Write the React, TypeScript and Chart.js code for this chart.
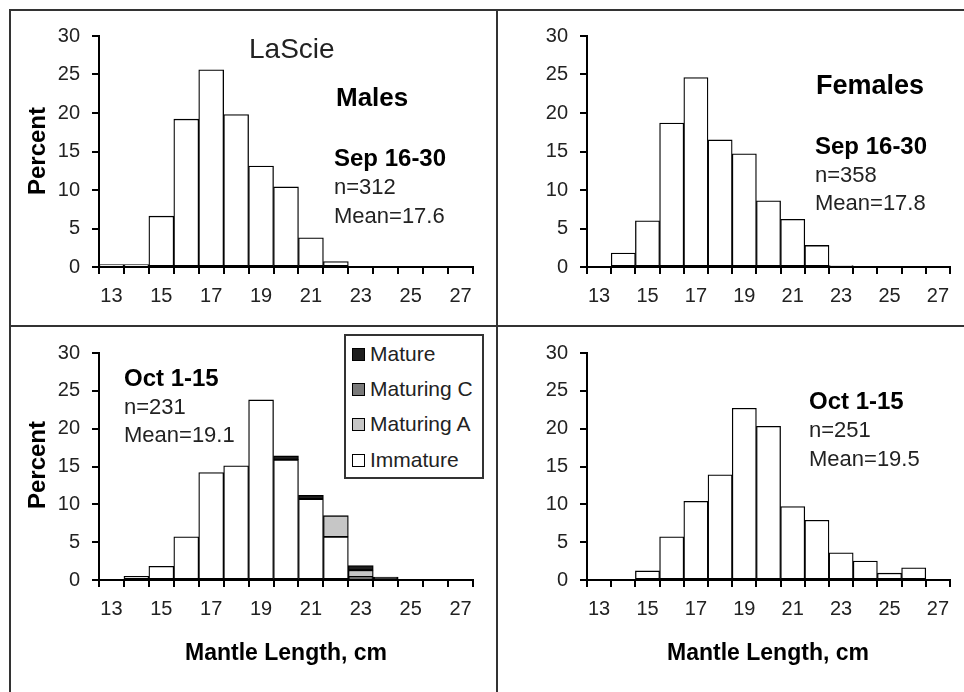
import React, { useEffect, useRef } from "react";
import { Chart, registerables } from "chart.js";
Chart.register(...registerables);

// ---- data ----
const lengths = ["13", "14", "15", "16", "17", "18", "19", "20", "21", "22", "23", "24", "25", "26", "27"];
const maleSep = [0.3, 0.3, 6.6, 19.2, 25.6, 19.8, 13.1, 10.4, 3.8, 0.7, null, null, null, null, null];
const femaleSep = [null, 1.8, 6.0, 18.7, 24.6, 16.5, 14.7, 8.6, 6.2, 2.8, 0.2, null, null, null, null];
const maleOctImmature = [null, 0.5, 1.8, 5.7, 14.2, 15.1, 23.8, 15.9, 10.7, 5.7, 0.4, null, null, null, null];
const maleOctMaturingA = [null, null, null, null, null, null, null, null, null, 2.8, 0.9, null, null, null, null];
const maleOctMaturingC = [null, null, null, null, null, null, null, null, null, null, null, null, null, null, null];
const maleOctMature = [null, null, null, null, null, null, null, 0.5, 0.5, null, 0.6, 0.4, null, null, null];
const femaleOct = [null, null, 1.2, 5.7, 10.4, 13.9, 22.7, 20.3, 9.7, 7.9, 3.6, 2.5, 0.9, 1.6, null];
const yTicks = { min: 0, max: 30, step: 5 };

const COLORS = { mature: "#1e1e1e", maturingC: "#7a7a7a", maturingA: "#c6c6c6", immature: "#ffffff" };

const YW = 60;
const XH = 45;

type Rect = { left: number; top: number; width: number; height: number };
type Area = { left: number; top: number; right: number; bottom: number };

function Panel({ rect, area, datasets }: { rect: Rect; area: Area; datasets: any[] }) {
  const ref = useRef<HTMLCanvasElement | null>(null);
  useEffect(() => {
    if (!ref.current) return;
    const padding = {
      left: area.left - rect.left - YW,
      top: area.top - rect.top,
      right: rect.left + rect.width - area.right,
      bottom: rect.top + rect.height - area.bottom - XH,
    };
    const tickFont = { family: "'Liberation Sans', Arial, sans-serif", size: 20 };
    const chart = new Chart(ref.current, {
      type: "bar",
      data: {
        labels: lengths,
        datasets: datasets.map((d) => ({
          label: d.label,
          data: d.data,
          backgroundColor: d.color,
          borderColor: "#000",
          borderWidth: 1.3,
          borderSkipped: false,
          barPercentage: 1,
          categoryPercentage: 1,
        })),
      },
      options: {
        animation: false,
        responsive: false,
        maintainAspectRatio: false,
        layout: { padding },
        plugins: { legend: { display: false }, tooltip: { enabled: false } },
        scales: {
          x: {
            stacked: true,
            grid: { offset: true, drawOnChartArea: false, drawTicks: true, tickLength: 7, color: "#000", lineWidth: 2 },
            border: { display: true, color: "#000", width: 2 },
            ticks: {
              autoSkip: false,
              maxRotation: 0,
              minRotation: 0,
              padding: 10,
              color: "#222",
              font: tickFont,
              callback: (_v: any, i: number) => (i % 2 === 0 ? lengths[i] : ""),
            },
            afterFit: (s: any) => {
              s.height = XH;
            },
          },
          y: {
            stacked: true,
            min: yTicks.min,
            max: yTicks.max,
            grid: { drawOnChartArea: false, drawTicks: true, tickLength: 7, color: "#000", lineWidth: 2 },
            border: { display: true, color: "#000", width: 2 },
            ticks: { stepSize: yTicks.step, padding: 12, color: "#222", font: tickFont },
            afterFit: (s: any) => {
              s.width = YW;
            },
          },
        },
      },
    } as any);
    return () => chart.destroy();
  }, []);
  return (
    <canvas
      ref={ref}
      width={rect.width}
      height={rect.height}
      style={{ position: "absolute", left: rect.left, top: rect.top, width: rect.width, height: rect.height }}
    />
  );
}

const REG = "'Liberation Sans', Arial, sans-serif";

function Txt({ x, y, size, bold, children, center }: any) {
  return (
    <div
      style={{
        position: "absolute",
        left: x,
        top: y - size / 2,
        fontFamily: REG,
        fontSize: size,
        lineHeight: size + "px",
        fontWeight: bold ? "bold" : "normal",
        color: bold ? "#000" : "#222",
        whiteSpace: "nowrap",
        transform: center ? "translateX(-50%)" : undefined,
      }}
    >
      {children}
    </div>
  );
}

function VTxt({ x, y, children }: any) {
  return (
    <div
      style={{
        position: "absolute",
        left: x,
        top: y,
        fontFamily: REG,
        fontSize: 24,
        lineHeight: "24px",
        fontWeight: "bold",
        color: "#000",
        whiteSpace: "nowrap",
        transform: "translate(-50%, -50%) rotate(-90deg)",
      }}
    >
      {children}
    </div>
  );
}

function Line({ x, y, w, h }: any) {
  return <div style={{ position: "absolute", left: x, top: y, width: w, height: h, background: "#333" }} />;
}

function LegendItem({ y, color, label }: any) {
  return (
    <>
      <div
        style={{
          position: "absolute",
          left: 352,
          top: y - 6,
          width: 11,
          height: 11,
          background: color,
          border: "1px solid #000",
        }}
      />
      <div
        style={{
          position: "absolute",
          left: 370,
          top: y - 11,
          fontFamily: REG,
          fontSize: 21,
          lineHeight: "21px",
          color: "#222",
          whiteSpace: "nowrap",
        }}
      >
        {label}
      </div>
    </>
  );
}

export default function App() {
  return (
    <div style={{ position: "absolute", left: 0, top: 0, width: 964, height: 692, background: "#fff", overflow: "hidden" }}>
      <Panel
        rect={{ left: 12, top: 12, width: 484, height: 312 }}
        area={{ left: 99, top: 35, right: 473, bottom: 267 }}
        datasets={[{ label: "Males Sep 16-30", data: maleSep, color: COLORS.immature }]}
      />
      <Panel
        rect={{ left: 499, top: 12, width: 465, height: 312 }}
        area={{ left: 587, top: 35, right: 950, bottom: 267 }}
        datasets={[{ label: "Females Sep 16-30", data: femaleSep, color: COLORS.immature }]}
      />
      <Panel
        rect={{ left: 12, top: 328, width: 484, height: 364 }}
        area={{ left: 99, top: 353, right: 473, bottom: 580 }}
        datasets={[
          { label: "Immature", data: maleOctImmature, color: COLORS.immature },
          { label: "Maturing A", data: maleOctMaturingA, color: COLORS.maturingA },
          { label: "Maturing C", data: maleOctMaturingC, color: COLORS.maturingC },
          { label: "Mature", data: maleOctMature, color: COLORS.mature },
        ]}
      />
      <Panel
        rect={{ left: 499, top: 328, width: 465, height: 364 }}
        area={{ left: 587, top: 353, right: 950, bottom: 580 }}
        datasets={[{ label: "Females Oct 1-15", data: femaleOct, color: COLORS.immature }]}
      />

      {/* frame */}
      <Line x={9} y={9} w={955} h={2} />
      <Line x={9} y={9} w={2} h={683} />
      <Line x={9} y={325} w={955} h={2} />
      <Line x={496} y={9} w={2} h={683} />

      {/* top-left texts */}
      <Txt x={249} y={49} size={28}>LaScie</Txt>
      <Txt x={336} y={97} size={26} bold>Males</Txt>
      <Txt x={334} y={158} size={24} bold>Sep 16-30</Txt>
      <Txt x={334} y={187} size={22}>n=312</Txt>
      <Txt x={334} y={216} size={22}>Mean=17.6</Txt>
      <VTxt x={37} y={151}>Percent</VTxt>

      {/* top-right texts */}
      <Txt x={816} y={85} size={27} bold>Females</Txt>
      <Txt x={815} y={146} size={24} bold>Sep 16-30</Txt>
      <Txt x={815} y={175} size={22}>n=358</Txt>
      <Txt x={815} y={203} size={22}>Mean=17.8</Txt>

      {/* bottom-left texts */}
      <Txt x={124} y={378} size={24} bold>Oct 1-15</Txt>
      <Txt x={124} y={407} size={22}>n=231</Txt>
      <Txt x={124} y={435} size={22}>Mean=19.1</Txt>
      <VTxt x={37} y={465}>Percent</VTxt>
      <Txt x={286} y={652} size={23} bold center>Mantle Length, cm</Txt>

      {/* bottom-right texts */}
      <Txt x={809} y={401} size={24} bold>Oct 1-15</Txt>
      <Txt x={809} y={430} size={22}>n=251</Txt>
      <Txt x={809} y={459} size={22}>Mean=19.5</Txt>
      <Txt x={768} y={652} size={23} bold center>Mantle Length, cm</Txt>

      {/* legend */}
      <div
        style={{
          position: "absolute",
          left: 344,
          top: 334,
          width: 136,
          height: 141,
          border: "2px solid #333",
          background: "#fff",
        }}
      />
      <LegendItem y={354} color={COLORS.mature} label="Mature" />
      <LegendItem y={389} color={COLORS.maturingC} label="Maturing C" />
      <LegendItem y={424} color={COLORS.maturingA} label="Maturing A" />
      <LegendItem y={460} color={COLORS.immature} label="Immature" />
    </div>
  );
}
